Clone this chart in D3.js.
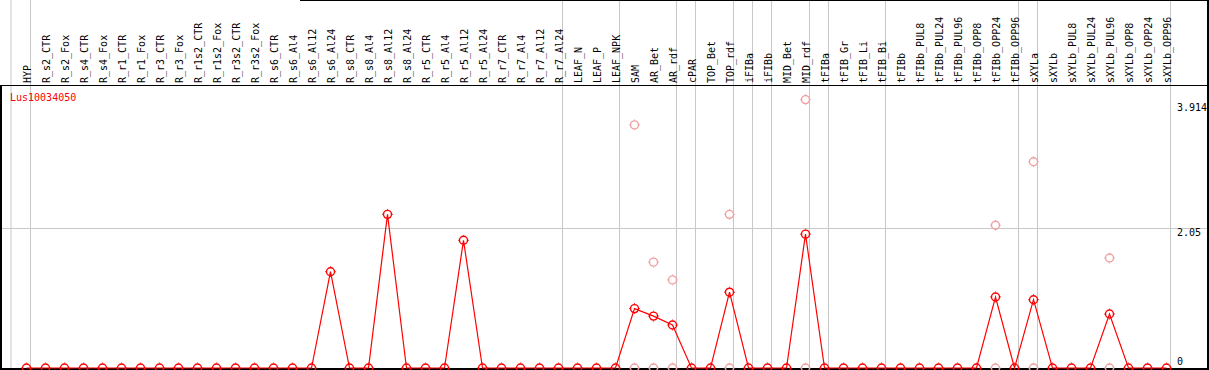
<!DOCTYPE html>
<html><head><meta charset="utf-8">
<script src="https://cdn.jsdelivr.net/npm/d3@7"></script>
<style>body{margin:0;background:#fff}svg{display:block}text{font-family:"DejaVu Sans Mono",monospace;font-size:10px}</style>
</head><body><svg id="c" width="1209" height="370"></svg>
<script>
const categories = ["HYP","R_s2_CTR","R_s2_Fox","R_s4_CTR","R_s4_Fox","R_r1_CTR","R_r1_Fox","R_r3_CTR","R_r3_Fox","R_r1s2_CTR","R_r1s2_Fox","R_r3s2_CTR","R_r3s2_Fox","R_s6_CTR","R_s6_Al4","R_s6_Al12","R_s6_Al24","R_s8_CTR","R_s8_Al4","R_s8_Al12","R_s8_Al24","R_r5_CTR","R_r5_Al4","R_r5_Al12","R_r5_Al24","R_r7_CTR","R_r7_Al4","R_r7_Al12","R_r7_Al24","LEAF_N","LEAF_P","LEAF_NPK","SAM","AR_Bet","AR_rdf","cPAR","TOP_Bet","TOP_rdf","iFIBa","iFIBb","MID_Bet","MID_rdf","tFIBa","tFIB_Gr","tFIB_Li","tFIB_Bi","tFIBb","tFIBb_PUL8","tFIBb_PUL24","tFIBb_PUL96","tFIBb_OPP8","tFIBb_OPP24","tFIBb_OPP96","sXYLa","sXYLb","sXYLb_PUL8","sXYLb_PUL24","sXYLb_PUL96","sXYLb_OPP8","sXYLb_OPP24","sXYLb_OPP96"];
const meanValues = [0,0,0,0,0,0,0,0,0,0,0,0,0,0,0,0,1.41,0,0,2.25,0,0,0,1.87,0,0,0,0,0,0,0,0,0.87,0.76,0.63,0,0,1.11,0,0,0,1.96,0,0,0,0,0,0,0,0,0,1.04,0,1.0,0,0,0,0.79,0,0,0];
const replicateCats = ["SAM","SAM","AR_Bet","AR_Bet","AR_rdf","AR_rdf","TOP_rdf","TOP_rdf","MID_rdf","MID_rdf","tFIBb_OPP24","tFIBb_OPP24","sXYLa","sXYLa","sXYLb_PUL96","sXYLb_PUL96"];
const replicateValues = [3.56,0,1.55,0,1.29,0,2.25,0,3.93,0,2.09,0,3.02,0,1.61,0];
const groupEnds = ["HYP","R_r7_Al24","LEAF_NPK","AR_rdf","cPAR","TOP_rdf","iFIBa","iFIBb","MID_rdf","tFIBa","tFIB_Bi","tFIBb_OPP96","sXYLa","sXYLb_OPP96"];
const yTicks = [0, 2.05, 3.914];
const gridTicks = [2.05];
const geneName = "Lus10034050";

const svg = d3.select("#c");
const x = d3.scaleBand().domain(categories).range([17, 17 + 19*categories.length]);
const cx = c => x(c) + x.bandwidth()/2;
const y = d3.scaleLinear().domain([0, 3.914]).range([368, 100.7]);
const grey = "#c8c8c8";

svg.append("line").attr("x1", cx("HYP")-15.5).attr("x2", cx("HYP")-15.5).attr("y1",0).attr("y2",370).attr("stroke",grey);
svg.selectAll(".sep").data(groupEnds).join("line").attr("class","sep")
  .attr("x1", d=>Math.round(cx(d)+3.5)+0.5).attr("x2", d=>Math.round(cx(d)+3.5)+0.5)
  .attr("y1",0).attr("y2",370).attr("stroke",grey);
svg.selectAll(".grid").data(gridTicks).join("line").attr("class","grid")
  .attr("x1",2).attr("x2",1207).attr("y1",d=>Math.round(y(d))+0.5).attr("y2",d=>Math.round(y(d))+0.5).attr("stroke",grey);

svg.append("line").attr("x1",0).attr("x2",1209).attr("y1",85.5).attr("y2",85.5).attr("stroke","#000");
svg.append("line").attr("x1",300).attr("x2",1209).attr("y1",0.5).attr("y2",0.5).attr("stroke","#000");
svg.append("line").attr("x1",1).attr("x2",1).attr("y1",85).attr("y2",370).attr("stroke","#000").attr("stroke-width",2);
svg.append("line").attr("x1",1208).attr("x2",1208).attr("y1",0).attr("y2",370).attr("stroke","#000").attr("stroke-width",2);
svg.append("line").attr("x1",0).attr("x2",1209).attr("y1",369).attr("y2",369).attr("stroke","#000").attr("stroke-width",2);

svg.selectAll(".lab").data(categories).join("text").attr("class","lab")
  .attr("transform", d=>`translate(${cx(d)+4.5},83) rotate(-90)`)
  .attr("fill","#000").text(d=>d);

svg.selectAll(".yl").data(yTicks).join("text").attr("class","yl")
  .attr("x",1177).attr("y", d=> d===0 ? y(d)-3 : y(d)+(d===3.914?10:8))
  .attr("fill","#000").text(d=>d);

svg.append("text").attr("x",10).attr("y",101).attr("fill","#f00").text(geneName);

function marker(g, color){
  g.append("circle").attr("r",4).attr("fill","none").attr("stroke",color).attr("stroke-width",1.4);
  [[0,-4.6,0,-5.4],[0,4.6,0,5.4],[-4.6,0,-5.4,0],[4.6,0,5.4,0]].forEach(l=>
    g.append("line").attr("x1",l[0]).attr("y1",l[1]).attr("x2",l[2]).attr("y2",l[3]).attr("stroke",color).attr("stroke-width",1));
}
const reps = replicateCats.map((c,i)=>({c, v: replicateValues[i]}));
svg.selectAll(".rep").data(reps).join("g").attr("class","rep")
  .attr("transform", d=>`translate(${cx(d.c)},${y(d.v)})`).each(function(){ marker(d3.select(this), "#f0a0a0"); });

const pts = categories.map((c,i)=>({c, v: meanValues[i]}));
svg.append("path").datum(pts).attr("fill","none").attr("stroke","#f00").attr("stroke-width",1.2)
  .attr("d", d3.line().x(d=>cx(d.c)).y(d=>y(d.v)));
svg.selectAll(".pt").data(pts).join("g").attr("class","pt")
  .attr("transform", d=>`translate(${cx(d.c)},${y(d.v)})`).each(function(){ marker(d3.select(this), "#f00"); });
</script></body></html>
